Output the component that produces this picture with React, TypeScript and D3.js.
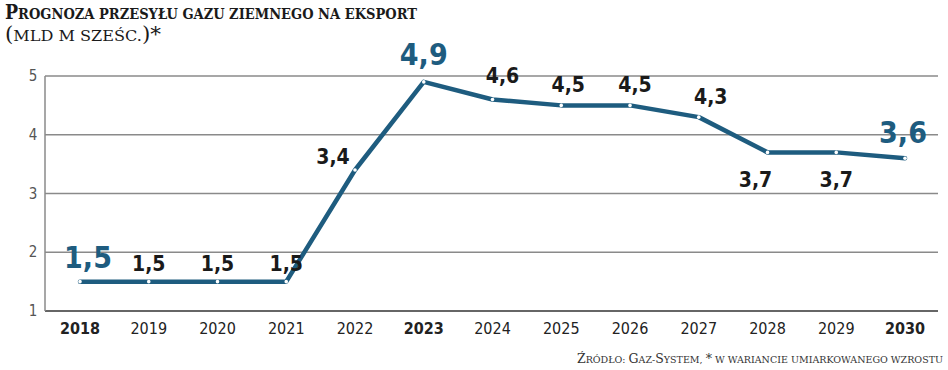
import React, { useEffect, useRef } from "react";
import * as d3 from "d3";

const years = ["2018", "2019", "2020", "2021", "2022", "2023", "2024", "2025", "2026", "2027", "2028", "2029", "2030"];
const values = [1.5, 1.5, 1.5, 1.5, 3.4, 4.9, 4.6, 4.5, 4.5, 4.3, 3.7, 3.7, 3.6];
const highlighted = ["2018", "2023", "2030"];
const yTicks = [1, 2, 3, 4, 5];

const title = "Prognoza przesyłu gazu ziemnego na eksport";
const subtitle = "(mld m sześc.)*";
const source = "Źródło: Gaz-System, * w wariancie umiarkowanego wzrostu";

const BLUE = "#1e5c7f";
const COND = "'DejaVu Sans Condensed', 'DejaVu Sans', sans-serif";
const SERIF = "'DejaVu Serif', serif";

// label offsets relative to the point (dx, dy to baseline)
const labelOffset: Record<string, [number, number]> = {
    "2018": [8, -14],
    "2022": [-22, -6],
    "2023": [0, -17],
    "2024": [10, -17],
    "2025": [7, -13],
    "2026": [5, -13],
    "2027": [12, -13],
    "2028": [-12, 35],
    "2029": [0, 35],
    "2030": [-2, -15]
};

// split text into runs of capitals / small caps
function smallCaps(sel: any, text: string, big: number, small: number) {
    const runs: { t: string; cap: boolean }[] = [];
    for (const ch of text) {
        const cap = ch !== ch.toLowerCase() || "()*".includes(ch);
        const last = runs[runs.length - 1];
        if (last && last.cap === cap) last.t += ch;
        else runs.push({ t: ch, cap });
    }
    runs.forEach(r => {
        sel.append("tspan")
            .attr("font-size", r.cap ? big : small)
            .text(r.t.toUpperCase());
    });
}

function App() {
    const chart = useRef<SVGSVGElement>(null);

    useEffect(() => {
        const width = 948;
        const height = 370;
        const svg = d3.select(chart.current)
            .attr("width", width)
            .attr("height", height);
        const g = svg.append("g");

        const x = d3.scalePoint().domain(years).range([80, 905]);
        const y = d3.scaleLinear().domain([1, 5]).range([311, 76]);

        // title
        const t1 = g.append("text")
            .attr("x", 5).attr("y", 19)
            .attr("font-family", SERIF)
            .attr("font-weight", "bold")
            .attr("textLength", 412)
            .attr("lengthAdjust", "spacingAndGlyphs")
            .attr("fill", "#1a1a1a");
        smallCaps(t1, title, 20, 15);
        const t2 = g.append("text")
            .attr("x", 5).attr("y", 41)
            .attr("font-family", SERIF)
            .attr("textLength", 156)
            .attr("lengthAdjust", "spacingAndGlyphs")
            .attr("fill", "#1a1a1a");
        smallCaps(t2, subtitle, 20, 15);

        // grid
        g.selectAll(".grid")
            .data(yTicks)
            .enter()
            .append("line")
            .attr("class", "grid")
            .attr("x1", 45).attr("x2", 938)
            .attr("y1", d => y(d)).attr("y2", d => y(d))
            .attr("stroke", d => d === 1 ? "#666" : "#8a8a8a")
            .attr("stroke-width", d => d === 1 ? 2 : 1.5);
        g.append("line")
            .attr("x1", 45).attr("x2", 45)
            .attr("y1", y(5)).attr("y2", y(1))
            .attr("stroke", "#8a8a8a")
            .attr("stroke-width", 1.5);

        // y tick labels
        g.selectAll(".ytick")
            .data(yTicks)
            .enter()
            .append("text")
            .attr("class", "ytick")
            .attr("x", 33).attr("y", d => y(d) + 5)
            .attr("text-anchor", "middle")
            .attr("font-family", COND)
            .attr("font-size", 15)
            .attr("fill", "#555")
            .text(d => d);

        // x labels
        g.selectAll(".xtick")
            .data(years)
            .enter()
            .append("text")
            .attr("class", "xtick")
            .attr("x", d => x(d)!)
            .attr("y", 334)
            .attr("text-anchor", "middle")
            .attr("font-family", COND)
            .attr("font-size", 16)
            .attr("font-weight", d => highlighted.includes(d) ? "bold" : "normal")
            .attr("fill", "#222")
            .text(d => d);

        // line
        const line = d3.line<number>()
            .x((d, i) => x(years[i])!)
            .y(d => y(d));
        g.append("path")
            .attr("d", line(values))
            .attr("fill", "none")
            .attr("stroke", BLUE)
            .attr("stroke-width", 4.5)
            .attr("stroke-linejoin", "round")
            .attr("stroke-linecap", "round");

        g.selectAll(".dot")
            .data(values)
            .enter()
            .append("circle")
            .attr("class", "dot")
            .attr("cx", (d, i) => x(years[i])!)
            .attr("cy", d => y(d))
            .attr("r", 1.8)
            .attr("fill", "#fff");

        // value labels
        g.selectAll(".val")
            .data(values)
            .enter()
            .append("text")
            .attr("class", "val")
            .attr("x", (d, i) => x(years[i])! + (labelOffset[years[i]] || [0, -11])[0])
            .attr("y", (d, i) => y(d) + (labelOffset[years[i]] || [0, -11])[1])
            .attr("text-anchor", "middle")
            .attr("font-family", COND)
            .attr("font-weight", "bold")
            .attr("font-size", (d, i) => highlighted.includes(years[i]) ? 30 : 21)
            .attr("fill", (d, i) => highlighted.includes(years[i]) ? BLUE : "#1a1a1a")
            .text(d => String(d).replace(".", ","));

        // source
        const src = g.append("text")
            .attr("x", 943).attr("y", 363)
            .attr("text-anchor", "end")
            .attr("font-family", SERIF)
            .attr("fill", "#333");
        smallCaps(src, source, 12.5, 9.5);

        return () => {
            svg.selectAll("*").remove();
        };
    }, []);

    return (
        <svg ref={chart} style={{ position: "absolute", left: 0, top: 0, background: "#fff" }}></svg>
    );
}

export default App;
